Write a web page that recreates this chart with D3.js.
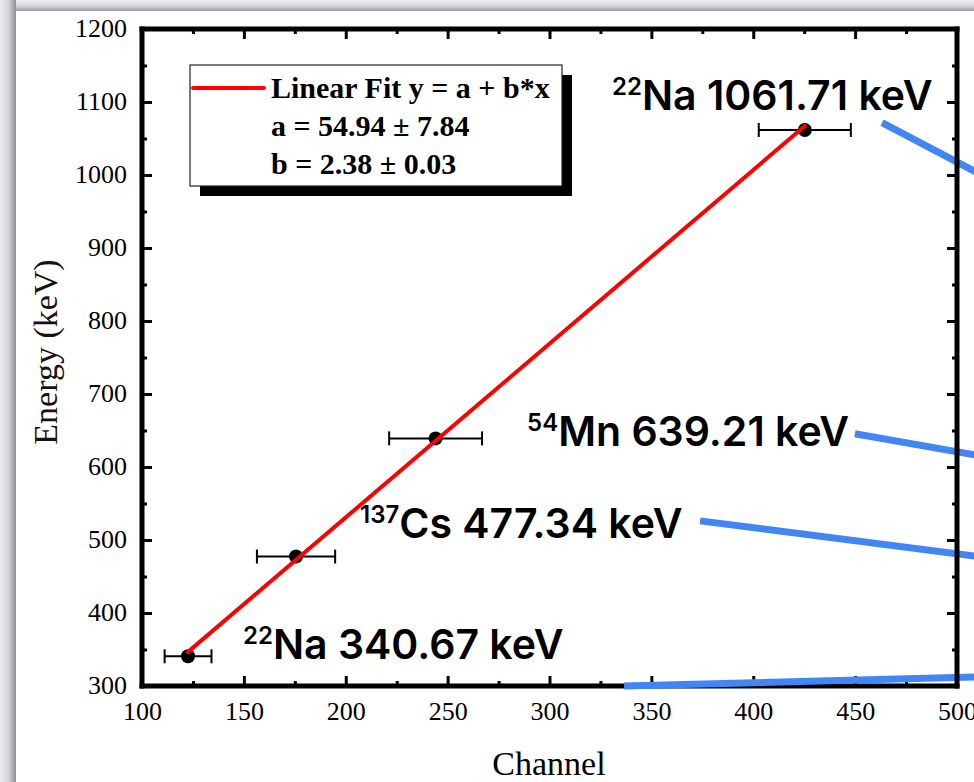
<!DOCTYPE html>
<html>
<head>
<meta charset="utf-8">
<script src="https://cdn.jsdelivr.net/npm/d3@7"></script>
<style>
  html, body { margin: 0; padding: 0; background: #ffffff; }
  svg { display: block; }
</style>
</head>
<body>
<svg id="chart" width="974" height="782"></svg>
<script>
// Calibration points: measured channel (with uncertainty) vs. known gamma energy
const isotopeMass   = ["22", "137", "54", "22"];
const isotopeSymbol = ["Na", "Cs", "Mn", "Na"];
const channels      = [122.6, 175.6, 244.1, 425.3];
const channelErrors = [11.5, 19.2, 22.8, 22.6];
const energies      = [340.67, 477.34, 639.21, 1061.71];

// Linear fit y = a + b*x
const fitA = 54.94, fitAErr = 7.84;
const fitB = 2.38,  fitBErr = 0.03;

// Axis ticks
const channelTicks      = [100, 150, 200, 250, 300, 350, 400, 450, 500];
const channelMinorTicks = [125, 175, 225, 275, 325, 375, 425, 475];
const energyTicks       = [300, 400, 500, 600, 700, 800, 900, 1000, 1100, 1200];
const energyMinorTicks  = [350, 450, 550, 650, 750, 850, 950, 1050, 1150];

const svg = d3.select("#chart");
const W = 974, H = 782;
const plot = { left: 142, right: 957, top: 29, bottom: 686 };

const x = d3.scaleLinear().domain([100, 500]).range([plot.left, plot.right]);
const y = d3.scaleLinear().domain([300, 1200]).range([plot.bottom, plot.top]);

// ---- page frame shading (left and top edges) ----
const defs = svg.append("defs");
const gl = defs.append("linearGradient").attr("id", "edgeL").attr("x1", 0).attr("x2", 1).attr("y1", 0).attr("y2", 0);
gl.append("stop").attr("offset", "0%").attr("stop-color", "#eeeef2");
gl.append("stop").attr("offset", "55%").attr("stop-color", "#d4d4d8");
gl.append("stop").attr("offset", "100%").attr("stop-color", "#8e8e90");
const gt = defs.append("linearGradient").attr("id", "edgeT").attr("x1", 0).attr("x2", 0).attr("y1", 0).attr("y2", 1);
gt.append("stop").attr("offset", "0%").attr("stop-color", "#f0f0f4");
gt.append("stop").attr("offset", "55%").attr("stop-color", "#d6d6da");
gt.append("stop").attr("offset", "100%").attr("stop-color", "#9a9a9c");

svg.append("rect").attr("width", W).attr("height", H).attr("fill", "#ffffff");
svg.append("rect").attr("x", 0).attr("y", 0).attr("width", W).attr("height", 11).attr("fill", "url(#edgeT)");
svg.append("rect").attr("x", 0).attr("y", 0).attr("width", 16).attr("height", H).attr("fill", "url(#edgeL)");

// ---- axes (ticks point inward, mirrored on top/right) ----
const serif = "'Liberation Serif', 'Times New Roman', serif";

function styleAxis(g) {
  g.select(".domain").remove();
  g.selectAll(".tick line").attr("stroke", "#000").attr("stroke-width", 3);
  g.selectAll(".tick text").attr("fill", "#000").attr("font-family", serif).attr("font-size", 26);
}

// bottom
svg.append("g").attr("transform", `translate(0,${plot.bottom})`)
  .call(d3.axisBottom(x).tickValues(channelTicks).tickSizeInner(-10).tickSizeOuter(0).tickPadding(16).tickFormat(d3.format("d")))
  .call(styleAxis);
svg.append("g").attr("transform", `translate(0,${plot.bottom})`)
  .call(d3.axisBottom(x).tickValues(channelMinorTicks).tickSize(-5).tickFormat(""))
  .call(styleAxis);
// top
svg.append("g").attr("transform", `translate(0,${plot.top})`)
  .call(d3.axisTop(x).tickValues(channelTicks).tickSize(-10).tickFormat(""))
  .call(styleAxis);
svg.append("g").attr("transform", `translate(0,${plot.top})`)
  .call(d3.axisTop(x).tickValues(channelMinorTicks).tickSize(-5).tickFormat(""))
  .call(styleAxis);
// left
const yAxisG = svg.append("g").attr("transform", `translate(${plot.left},0)`)
  .call(d3.axisLeft(y).tickValues(energyTicks).tickSizeInner(-10).tickSizeOuter(0).tickPadding(15).tickFormat(d3.format("d")))
  .call(styleAxis);
yAxisG.selectAll(".tick text").attr("dy", "0.3em");
svg.append("g").attr("transform", `translate(${plot.left},0)`)
  .call(d3.axisLeft(y).tickValues(energyMinorTicks).tickSize(-5).tickFormat(""))
  .call(styleAxis);
// right
svg.append("g").attr("transform", `translate(${plot.right},0)`)
  .call(d3.axisRight(y).tickValues(energyTicks).tickSize(-10).tickFormat(""))
  .call(styleAxis);
svg.append("g").attr("transform", `translate(${plot.right},0)`)
  .call(d3.axisRight(y).tickValues(energyMinorTicks).tickSize(-5).tickFormat(""))
  .call(styleAxis);

// frame lines (left, top, bottom); right edge drawn after the leader lines
const frame = svg.append("g").attr("stroke", "#000").attr("stroke-width", 5).attr("stroke-linecap", "square");
frame.append("line").attr("x1", plot.left).attr("x2", plot.left).attr("y1", plot.top).attr("y2", plot.bottom);
frame.append("line").attr("x1", plot.left).attr("x2", plot.right).attr("y1", plot.top).attr("y2", plot.top);
frame.append("line").attr("x1", plot.left).attr("x2", plot.right).attr("y1", plot.bottom).attr("y2", plot.bottom);

// ---- axis titles ----
svg.append("text")
  .attr("transform", `translate(57,352) rotate(-90)`)
  .attr("text-anchor", "middle")
  .attr("font-family", serif).attr("font-size", 34).attr("fill", "#1a1010")
  .text("Energy (keV)");
svg.append("text")
  .attr("x", 549).attr("y", 775)
  .attr("text-anchor", "middle")
  .attr("font-family", serif).attr("font-size", 34).attr("fill", "#000")
  .text("Channel");

// ---- data: error bars and markers ----
const pts = channels.map((c, i) => ({ c, e: energies[i], err: channelErrors[i] }));
const eb = svg.append("g").attr("stroke", "#000").attr("stroke-width", 2);
pts.forEach(p => {
  const yy = y(p.e), x0 = x(p.c - p.err), x1 = x(p.c + p.err);
  eb.append("line").attr("x1", x0).attr("x2", x1).attr("y1", yy).attr("y2", yy);
  eb.append("line").attr("x1", x0).attr("x2", x0).attr("y1", yy - 7).attr("y2", yy + 7);
  eb.append("line").attr("x1", x1).attr("x2", x1).attr("y1", yy - 7).attr("y2", yy + 7);
});
svg.append("g").selectAll("circle").data(pts).join("circle")
  .attr("cx", d => x(d.c)).attr("cy", d => y(d.e)).attr("r", 7).attr("fill", "#000");

// ---- fitted line over the measured channel range ----
const xs = d3.extent(channels);
svg.append("path")
  .datum(xs.map(c => [c, fitA + fitB * c]))
  .attr("d", d3.line().x(d => x(d[0])).y(d => y(d[1])))
  .attr("stroke", "#ff0000").attr("stroke-width", 4).attr("fill", "none").attr("stroke-linecap", "round");

// ---- legend ----
const lg = svg.append("g");
lg.append("rect").attr("x", 200).attr("y", 75).attr("width", 372).attr("height", 121).attr("fill", "#000");
lg.append("rect").attr("x", 190).attr("y", 65).attr("width", 372).attr("height", 121)
  .attr("fill", "#fff").attr("stroke", "#222").attr("stroke-width", 1.2);
lg.append("line").attr("x1", 193).attr("x2", 264).attr("y1", 88).attr("y2", 88)
  .attr("stroke", "#ff0000").attr("stroke-width", 4).attr("stroke-linecap", "round");
const legendLines = [
  "Linear Fit y = a + b*x",
  `a = ${fitA.toFixed(2)} \u00B1 ${fitAErr.toFixed(2)}`,
  `b = ${fitB.toFixed(2)} \u00B1 ${fitBErr.toFixed(2)}`
];
lg.selectAll("text.lt").data(legendLines).join("text").attr("class", "lt")
  .attr("x", 271).attr("y", (d, i) => 98 + i * 38)
  .attr("font-family", serif).attr("font-weight", "bold").attr("font-size", 30).attr("fill", "#000")
  .text(d => d);

// ---- isotope labels and leader lines (anchors in channel/energy units) ----
const labelAnchors = [
  { c: 149.6, e: 337.0 },
  { c: 207.0, e: 502.7 },
  { c: 289.0, e: 628.8 },
  { c: 330.7, e: 1089.0 }
];
const leaders = [
  [[336.6, 300.0], [510.0, 312.5]],
  [[373.9, 526.2], [510.0, 477.5]],
  [[449.9, 645.5], [510.0, 616.0]],
  [[463.2, 1071.8], [510.0, 1003.0]]
];
const sans = "Inter, 'Noto Sans', sans-serif";
const lab = svg.append("g").attr("font-family", sans).attr("font-weight", 600).attr("fill", "#000");
pts.forEach((p, i) => {
  const t = lab.append("text").attr("x", x(labelAnchors[i].c)).attr("y", y(labelAnchors[i].e)).attr("font-size", 41);
  t.append("tspan").attr("font-size", 24).attr("dy", -15).text(isotopeMass[i]);
  t.append("tspan").attr("dy", 15).text(`${isotopeSymbol[i]} ${energies[i].toFixed(2)} keV`);
});
svg.append("g").selectAll("path").data(leaders).join("path")
  .attr("d", d3.line().x(d => x(d[0])).y(d => y(d[1])))
  .attr("stroke", "#4285f4").attr("stroke-width", 7).attr("fill", "none");

// right frame edge
svg.append("line").attr("x1", plot.right).attr("x2", plot.right).attr("y1", plot.top).attr("y2", plot.bottom)
  .attr("stroke", "#000").attr("stroke-width", 5).attr("stroke-linecap", "square");
</script>
</body>
</html>
